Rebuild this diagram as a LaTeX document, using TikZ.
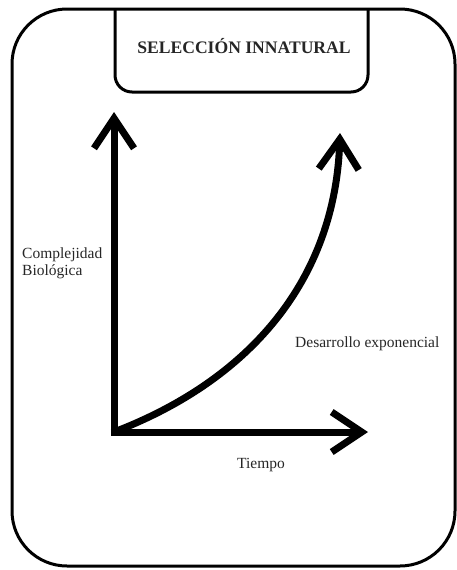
\documentclass[tikz,border=0pt]{standalone}
\usepackage{fontspec}
\setmainfont{Liberation Serif}
\usetikzlibrary{arrows.meta}

\tikzset{
  frame/.style={line width=3pt},
  axis/.style={line width=7pt, -{Straight Barb[length=30pt,width=40pt]}},
  lbl/.style={inner sep=0pt, text=black!85, font=\fontsize{15.5}{17}\selectfont}
}

\begin{document}
\begin{tikzpicture}[x=1pt,y=-1pt]
  \useasboundingbox (0,0) rectangle (457,570);

  % Outer frame and the title box hanging from it
  \draw[frame, rounded corners=55pt] (12,9) rectangle (455,566);
  \draw[frame, rounded corners=17pt] (115,9) -- (115,92) -- (368,92) -- (368,9);
  \node[lbl, anchor=base, font=\fontsize{17.6}{20}\selectfont\bfseries] (title) at (244,53) {SELECCIÓN INNATURAL};

  % Axes
  \coordinate (origin) at (114,432);
  \coordinate (ytip) at (114,112);
  \coordinate (xtip) at (368,432);
  \draw[axis, shorten <=-3.5pt] (origin) -- (ytip);
  \draw[axis, shorten <=-3.5pt] (origin) -- (xtip);

  % Exponential growth
  \coordinate (ctip) at (340,133);
  \draw[axis] (origin) .. controls (250,380) and (335,280) .. (ctip);

  % Labels
  \node[lbl, anchor=north west, align=left] (ylabel) at (22,248) {Complejidad\\Biológica};
  \node[lbl, anchor=base west] (clabel) at (295,347) {Desarrollo exponencial};
  \node[lbl, anchor=base west] (xlabel) at (237,468) {Tiempo};
\end{tikzpicture}
\end{document}
